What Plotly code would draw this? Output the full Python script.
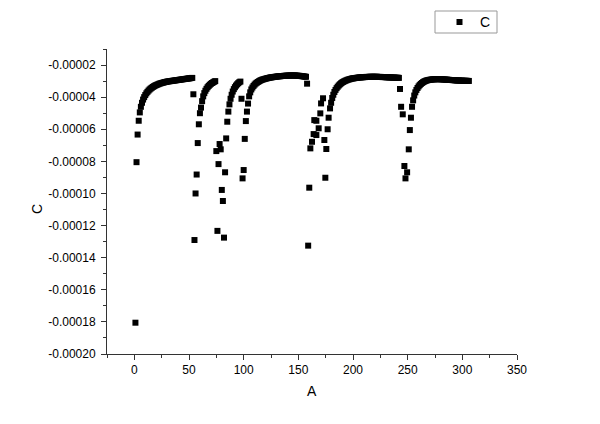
import plotly.graph_objects as go

# ---- data (C values) ----
seg1_x = list(range(1, 55))
seg1_y = [-18.05e-5, -8.05e-5, -6.33e-5, -5.47e-5,
          -4.95e-5, -4.60e-5, -4.35e-5, -4.15e-5, -4.00e-5, -3.87e-5, -3.76e-5, -3.67e-5, -3.59e-5, -3.52e-5,
          -3.46e-5, -3.41e-5, -3.36e-5, -3.32e-5, -3.28e-5, -3.25e-5, -3.22e-5, -3.19e-5, -3.16e-5, -3.14e-5,
          -3.12e-5, -3.10e-5, -3.08e-5, -3.06e-5, -3.05e-5, -3.03e-5, -3.02e-5, -3.01e-5, -3.00e-5, -2.99e-5,
          -2.98e-5, -2.97e-5, -2.96e-5, -2.95e-5, -2.94e-5, -2.93e-5, -2.92e-5, -2.91e-5, -2.90e-5, -2.89e-5,
          -2.88e-5, -2.87e-5, -2.86e-5, -2.85e-5, -2.84e-5, -2.83e-5, -2.82e-5, -2.81e-5, -2.80e-5,
          -3.82e-5]

seg2_x = list(range(55, 75))
seg2_y = [-12.90e-5, -10.00e-5, -8.82e-5, -6.86e-5, -5.69e-5, -5.00e-5,
          -4.65e-5, -4.25e-5, -3.95e-5, -3.75e-5, -3.60e-5, -3.48e-5, -3.38e-5, -3.30e-5,
          -3.23e-5, -3.17e-5, -3.12e-5, -3.08e-5, -3.04e-5, -3.00e-5]

seg3_x = list(range(75, 98))
seg3_y = [-7.36e-5, -12.33e-5, -8.17e-5, -6.92e-5, -7.25e-5, -9.78e-5, -10.47e-5, -12.75e-5,
          -8.68e-5, -6.57e-5, -5.53e-5, -4.90e-5,
          -4.45e-5, -4.10e-5, -3.85e-5, -3.65e-5, -3.50e-5, -3.38e-5, -3.28e-5, -3.20e-5,
          -3.13e-5, -3.07e-5, -3.03e-5]

seg4_x = list(range(98, 159))
seg4_y = [-4.10e-5, -9.06e-5, -8.54e-5, -6.60e-5, -5.49e-5, -4.90e-5,
          -4.40e-5, -3.95e-5, -3.70e-5, -3.52e-5, -3.40e-5, -3.30e-5, -3.22e-5, -3.15e-5, -3.10e-5, -3.05e-5,
          -3.01e-5, -2.97e-5, -2.94e-5, -2.91e-5, -2.89e-5, -2.87e-5, -2.85e-5, -2.83e-5, -2.81e-5, -2.80e-5,
          -2.78e-5, -2.77e-5, -2.76e-5, -2.75e-5, -2.74e-5, -2.73e-5, -2.72e-5, -2.71e-5, -2.70e-5, -2.70e-5,
          -2.69e-5, -2.68e-5, -2.68e-5, -2.67e-5, -2.67e-5, -2.66e-5, -2.66e-5, -2.66e-5, -2.65e-5, -2.65e-5,
          -2.65e-5, -2.65e-5, -2.65e-5, -2.65e-5, -2.66e-5, -2.66e-5, -2.67e-5, -2.67e-5, -2.68e-5, -2.69e-5,
          -2.70e-5, -2.71e-5, -2.72e-5, -2.73e-5,
          -3.16e-5]

seg5_x = [159, 160, 161, 162.5, 164, 164.6, 166.5, 166.5, 168.6, 170.1, 170.8, 172.6,
          173.8, 174.7, 175.6, 176.8, 177.7] + list(range(179, 243))
seg5_y = [-13.25e-5, -9.64e-5, -7.19e-5, -6.78e-5, -6.30e-5, -5.43e-5, -6.36e-5, -5.47e-5, -5.94e-5,
          -5.01e-5, -4.39e-5, -4.07e-5, -6.67e-5, -9.02e-5, -7.23e-5, -6.00e-5, -5.28e-5,
          -4.70e-5, -4.35e-5, -4.05e-5, -3.85e-5, -3.68e-5, -3.55e-5, -3.44e-5, -3.35e-5, -3.27e-5, -3.20e-5,
          -3.14e-5, -3.09e-5, -3.05e-5, -3.01e-5, -2.98e-5, -2.95e-5, -2.92e-5, -2.90e-5, -2.88e-5, -2.86e-5,
          -2.84e-5, -2.83e-5, -2.82e-5, -2.81e-5, -2.80e-5, -2.79e-5, -2.78e-5, -2.77e-5, -2.77e-5, -2.76e-5,
          -2.76e-5, -2.75e-5, -2.75e-5, -2.74e-5, -2.74e-5, -2.74e-5, -2.73e-5, -2.73e-5, -2.73e-5, -2.73e-5,
          -2.73e-5, -2.73e-5, -2.73e-5, -2.73e-5, -2.74e-5, -2.74e-5, -2.74e-5, -2.74e-5, -2.75e-5, -2.75e-5,
          -2.75e-5, -2.76e-5, -2.76e-5, -2.76e-5, -2.77e-5, -2.77e-5, -2.77e-5, -2.78e-5, -2.78e-5, -2.78e-5,
          -2.79e-5, -2.79e-5, -2.79e-5, -2.80e-5]

seg6_x = [243, 244, 245.5, 247, 248, 249.5, 251, 252, 253] + list(range(254, 307))
seg6_y = [-3.49e-5, -4.60e-5, -5.07e-5, -8.29e-5, -9.06e-5, -8.68e-5, -7.25e-5, -6.05e-5, -5.28e-5,
          -4.60e-5, -4.20e-5, -3.90e-5, -3.70e-5, -3.55e-5, -3.43e-5, -3.33e-5, -3.25e-5, -3.18e-5, -3.12e-5,
          -3.07e-5, -3.03e-5, -3.00e-5, -2.97e-5, -2.95e-5, -2.93e-5, -2.92e-5, -2.91e-5, -2.90e-5, -2.89e-5,
          -2.89e-5, -2.88e-5, -2.88e-5, -2.88e-5, -2.88e-5, -2.88e-5, -2.88e-5, -2.89e-5, -2.89e-5, -2.90e-5,
          -2.90e-5, -2.91e-5, -2.91e-5, -2.92e-5, -2.92e-5, -2.93e-5, -2.93e-5, -2.94e-5, -2.94e-5, -2.95e-5,
          -2.95e-5, -2.96e-5, -2.96e-5, -2.96e-5, -2.97e-5, -2.97e-5, -2.97e-5, -2.98e-5, -2.98e-5, -2.98e-5,
          -2.98e-5, -2.99e-5, -2.99e-5]

x_ticks = [0, 50, 100, 150, 200, 250, 300, 350]
x_tick_labels = ["0", "50", "100", "150", "200", "250", "300", "350"]
y_ticks = [-0.00020, -0.00018, -0.00016, -0.00014, -0.00012, -0.00010, -0.00008, -0.00006, -0.00004, -0.00002]
y_tick_labels = ["-0.00020", "-0.00018", "-0.00016", "-0.00014", "-0.00012", "-0.00010",
                 "-0.00008", "-0.00006", "-0.00004", "-0.00002"]
y_minor_ticks = [-0.00019, -0.00017, -0.00015, -0.00013, -0.00011, -0.00009, -0.00007, -0.00005,
                 -0.00003, -0.00001]
x_minor_ticks = [-25, 25, 75, 125, 175, 225, 275, 325]
legend_label = "C"

all_x = seg1_x + seg2_x + seg3_x + seg4_x + seg5_x + seg6_x
all_y = seg1_y + seg2_y + seg3_y + seg4_y + seg5_y + seg6_y

FONT = "Liberation Sans, Arial, sans-serif"
AX = "#333333"
W, H = 600, 424
ML, MR, MT, MB = 107, 83, 49, 70
PW, PH = W - ML - MR, H - MT - MB

def px2paper_x(px):
    return (px - ML) / PW

def px2paper_y(py):
    return (H - MB - py) / PH

fig = go.Figure()
fig.add_trace(go.Scatter(
    x=all_x, y=all_y, mode="markers", name=legend_label,
    marker=dict(symbol="square", size=6, color="black", line=dict(width=0)),
    showlegend=False, hoverinfo="skip",
))

axis_common = dict(
    showgrid=False, zeroline=False, showline=True, linecolor=AX, linewidth=1,
    ticks="outside", ticklen=5, tickcolor=AX, tickwidth=1,
    tickfont=dict(family=FONT, size=12, color="black"),
)

# legend box drawn as layout decoration
shapes = [
    dict(type="rect", xref="paper", yref="paper",
         x0=px2paper_x(435), x1=px2paper_x(497), y0=px2paper_y(33), y1=px2paper_y(11),
         line=dict(color="#999999", width=1), fillcolor="white"),
    dict(type="rect", xref="paper", yref="paper",
         x0=px2paper_x(456.5), x1=px2paper_x(462.5), y0=px2paper_y(25), y1=px2paper_y(19),
         line=dict(width=0), fillcolor="black"),
]

fig.update_layout(
    width=W, height=H,
    margin=dict(l=ML, r=MR, t=MT, b=MB, autoexpand=False),
    paper_bgcolor="white", plot_bgcolor="white",
    font=dict(family=FONT, color="black"),
    showlegend=False,
    shapes=shapes,
    xaxis=dict(range=[-25, 350], tickvals=x_ticks, ticktext=x_tick_labels,
               minor=dict(tickvals=x_minor_ticks, ticks="outside", ticklen=3, tickcolor=AX),
               **axis_common),
    yaxis=dict(range=[-0.0002, -0.00001], tickvals=y_ticks, ticktext=y_tick_labels,
               minor=dict(tickvals=y_minor_ticks, ticks="outside", ticklen=3, tickcolor=AX),
               ticklabelstandoff=3,
               **axis_common),
    annotations=[
        dict(text="A", xref="paper", yref="paper", x=0.5, y=px2paper_y(391), xanchor="center", yanchor="middle",
             showarrow=False, font=dict(family=FONT, size=14, color="black")),
        dict(text="C", xref="paper", yref="paper", x=px2paper_x(37), y=px2paper_y(209), xanchor="center",
             yanchor="middle", textangle=-90, showarrow=False, font=dict(family=FONT, size=14, color="black")),
        dict(text=legend_label, xref="paper", yref="paper", x=px2paper_x(485), y=px2paper_y(22),
             xanchor="center", yanchor="middle", showarrow=False,
             font=dict(family=FONT, size=14, color="black")),
    ],
)

fig.write_html("out.html", config={"displayModeBar": False, "staticPlot": True},
               post_script="document.body.style.margin='0px';")
